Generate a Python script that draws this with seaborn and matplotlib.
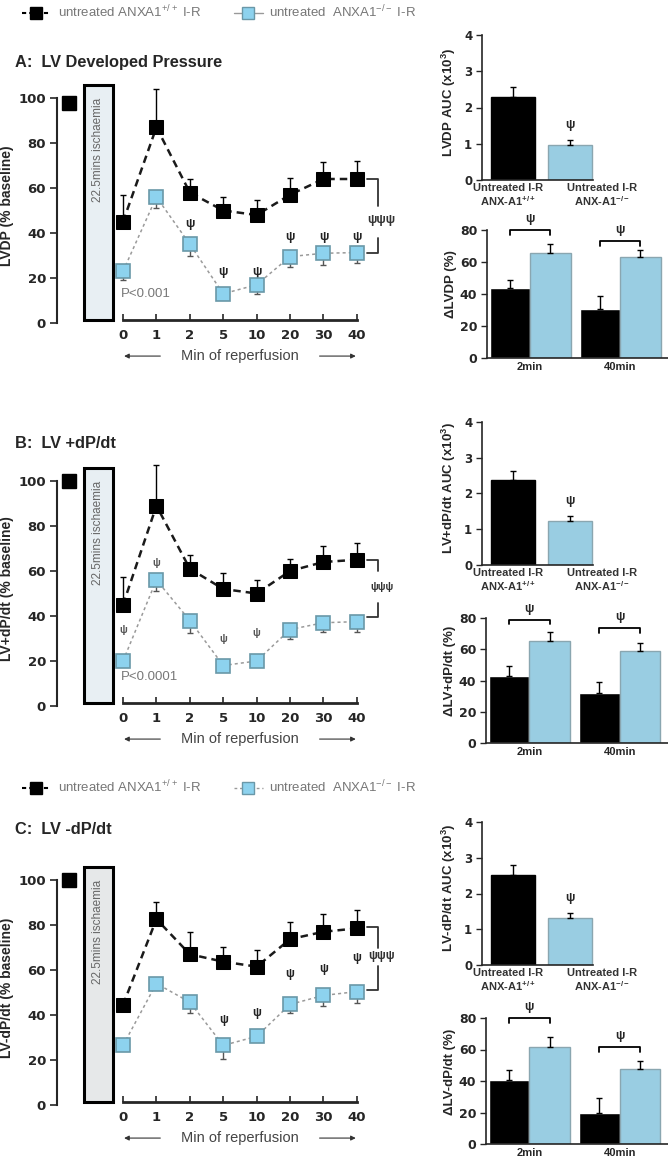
import matplotlib
matplotlib.use('Agg')
import matplotlib.pyplot as plt
from matplotlib.lines import Line2D
from matplotlib.patches import Rectangle
import numpy as np
import pandas as pd
import seaborn as sns

W, H = 668, 1160
BLACK = '#000000'
BLUE = '#8dd2ee'
BLUE_EDGE = '#6a98a8'
TICK_FONT = ['DejaVu Sans']

# reperfusion time points (min)
times = ['0', '1', '2', '5', '10', '20', '30', '40']

# A: LV developed pressure (% baseline)
lvdp_wt = [45, 87, 58, 50, 48, 57, 64, 64]
lvdp_wt_err = [12, 17, 6, 6, 6.5, 7.5, 7.5, 8]
lvdp_ko = [23, 56, 35, 13, 17, 29.5, 31, 31.3]
lvdp_ko_err = [4, 5, 5, 1, 4, 4.5, 5, 4.5]
lvdp_base = 98
lvdp_psi = {2: 44, 3: 22.8, 4: 22.8, 5: 38.4, 6: 38.4, 7: 38.4}

# B: LV +dP/dt (% baseline)
pos_wt = [45, 89, 61, 52, 50, 60, 64, 65]
pos_wt_err = [12.5, 18, 6, 7, 6, 5.5, 7, 7.5]
pos_ko = [20, 56, 38, 18, 20, 34, 37, 37.5]
pos_ko_err = [1, 5, 5.5, 1, 1, 4, 4.3, 4.5]
pos_base = 100
pos_psi = {0: 33.8, 1: 63.4, 3: 30, 4: 32.3}

# C: LV -dP/dt (% baseline)
neg_wt = [44.5, 82.6, 67, 63.7, 61.5, 73.7, 77, 78.5]
neg_wt_err = [0, 7.5, 10, 6.5, 7.5, 7.7, 8, 8.2]
neg_ko = [26.5, 54, 45.7, 26.5, 30.5, 44.7, 48.7, 50.4]
neg_ko_err = [1, 1, 5, 6, 1, 4, 4.7, 5]
neg_base = 100
neg_psi = {3: 37.6, 4: 41, 5: 58, 6: 60.5, 7: 65.3}

# AUC (x10^3)
auc_groups = ['Untreated I-R\nANX-A1$^{+/+}$', 'Untreated I-R\nANX-A1$^{-/-}$']
auc_lvdp = [2.3, 0.97]
auc_lvdp_err = [0.27, 0.12]
auc_pos = [2.37, 1.22]
auc_pos_err = [0.26, 0.14]
auc_neg = [2.53, 1.31]
auc_neg_err = [0.27, 0.15]

# change at 2 min / 40 min (%)
delta_times = ['2min', '40min']
d_lvdp_wt = [43.5, 30.5]
d_lvdp_wt_err = [5.5, 8.5]
d_lvdp_ko = [65.5, 63]
d_lvdp_ko_err = [5.5, 4.5]
d_pos_wt = [43, 32]
d_pos_wt_err = [6, 7]
d_pos_ko = [65, 59]
d_pos_ko_err = [6, 5]
d_neg_wt = [40.6, 19.7]
d_neg_wt_err = [6.4, 9.3]
d_neg_ko = [61.6, 47.6]
d_neg_ko_err = [6.4, 5.1]


def px_axes(fig, left, right, zero, scale, ylo, yhi):
    """
    Adds an axes placed by pixel positions.
    zero - pixel row of y=0, scale - pixels per y unit
    """
    top = zero - yhi * scale
    bottom = zero - ylo * scale
    ax = fig.add_axes([left / W, 1 - bottom / H, (right - left) / W,
                       (bottom - top) / H])
    ax.set_ylim(ylo, yhi)
    return ax


def bracket(ax, x0, xs, top, bottom, gap_lo, gap_hi, mid, psi_size):
    """
    Draws the right side significance bracket with the psi marks.
    """
    kw = dict(color='#333333', lw=1.3, clip_on=False)
    ax.plot([x0, xs, xs], [top, top, gap_hi], **kw)
    ax.plot([x0, xs, xs], [bottom, bottom, gap_lo], **kw)
    ax.text(xs + 0.12, mid, 'ψψψ', ha='center', va='center',
            fontsize=psi_size, fontweight='bold', color='#333333')


def time_course(ax, wt, wt_err, ko, ko_err, base, psi, psi_style,
                ylabel, ptext, box_color, brk):
    """
    Plots the reperfusion time course for one LV measure.
    """
    x = np.arange(len(times))
    sns.despine(ax=ax)
    ax.spines['bottom'].set_position(('data', 1.5))
    ax.set_xlim(-1.976, 8.59)
    ax.set_ylim(-6, 110)
    ax.errorbar(x, wt, yerr=[np.zeros(len(wt)), wt_err], fmt='none',
                ecolor='black', elinewidth=1, capsize=2.5, zorder=3)
    ax.errorbar(x, ko, yerr=[ko_err, np.zeros(len(ko))], fmt='none',
                ecolor='#555555', elinewidth=1, capsize=2.5, zorder=3)
    sns.lineplot(x=x, y=wt, ax=ax, color='#1a1a1a', lw=1.8,
                 linestyle=(0, (3, 2)), marker='s', markersize=10,
                 markerfacecolor='black', markeredgecolor='black', zorder=5)
    sns.lineplot(x=x, y=ko, ax=ax, color='#9a9a9a', lw=1.1,
                 linestyle=(0, (2, 2)), marker='s', markersize=10,
                 markerfacecolor=BLUE, markeredgecolor=BLUE_EDGE,
                 markeredgewidth=1.2, zorder=5)
    ax.plot([-1.62], [base], marker='s', markersize=10, color='black',
            clip_on=False)
    ax.add_patch(Rectangle((-1.17, 1.5), 0.86, 104.5, facecolor=box_color,
                           edgecolor='black', lw=2.2, clip_on=False))
    ax.text(-0.74, 77, '22.5mins ischaemia', rotation=90, ha='center',
            va='center', fontsize=8.5, color='#666666')
    size, color = psi_style
    for i, y in psi.items():
        ax.text(i, y, 'ψ', ha='center', va='center', fontsize=size,
                fontweight='bold', color=color)
    bracket(ax, 7.3, 7.62, *brk)
    ax.text(-0.05, 13, ptext, fontsize=9.5, color='#777777', va='center')

    ax.set_xticks(x)
    ax.set_xticklabels(times, fontweight='bold', fontsize=9.5,
                       family=TICK_FONT)
    ax.set_yticks([0, 20, 40, 60, 80, 100])
    ax.set_yticklabels(['0', '20', '40', '60', '80', '100'],
                       fontweight='bold', fontsize=9.5, family=TICK_FONT)
    ax.tick_params(axis='x', direction='in', length=4, width=1.2, pad=7)
    ax.tick_params(axis='y', direction='out', length=5, width=1.2, pad=3)
    ax.spines['left'].set_bounds(0, 100)
    ax.spines['left'].set_linewidth(1.5)
    ax.spines['bottom'].set_bounds(0, 7)
    ax.spines['bottom'].set_linewidth(2)
    ax.set_ylabel(ylabel, fontweight='bold', fontsize=10, labelpad=3)

    ax.text(3.5, -14.7, 'Min of reperfusion', ha='center', va='center',
            fontsize=10.5, color='#444444')
    arrow = dict(arrowstyle='-|>', color='#333333', lw=0.8, mutation_scale=7)
    ax.annotate('', xy=(-0.05, -14.7), xytext=(1.2, -14.7),
                arrowprops=arrow, annotation_clip=False)
    ax.annotate('', xy=(7.05, -14.7), xytext=(5.8, -14.7),
                arrowprops=arrow, annotation_clip=False)


def auc_panel(ax, vals, errs, ylabel):
    """
    Plots the area under the curve bars for the two genotypes.
    """
    sns.barplot(x=auc_groups, y=vals, hue=auc_groups, palette=[BLACK, BLUE],
                legend=False, width=0.77, ax=ax, linewidth=1)
    for patch, ec in zip(ax.patches, ['black', '#8aa6b0']):
        patch.set_edgecolor(ec)
    ax.errorbar([0, 1], vals, yerr=[[0, 0], errs], fmt='none',
                ecolor='black', elinewidth=1, capsize=2.5, zorder=4)
    ax.text(1, vals[1] + errs[1] + 0.42, 'ψ', ha='center', va='center',
            fontsize=9, fontweight='bold')
    ax.set_xlim(-0.544, 1.965)
    ax.set_ylim(0, 4.3)
    ax.set_xticks([-0.09, 1.56])
    ax.set_xticklabels(auc_groups, fontsize=8, fontweight='bold',
                       color='#333333', linespacing=1.1)
    ax.set_yticks([0, 1, 2, 3, 4])
    ax.set_yticklabels(['0', '1', '2', '3', '4'], fontweight='bold',
                       fontsize=8.5, family=TICK_FONT)
    ax.tick_params(axis='x', length=0, pad=2)
    ax.tick_params(axis='y', length=4, width=1, pad=3)
    sns.despine(ax=ax)
    ax.spines['left'].set_bounds(0, 4)
    ax.spines['bottom'].set_bounds(-0.544, 1.4)
    ax.set_ylabel(ylabel, fontweight='bold', fontsize=9.5, labelpad=4)
    ax.set_xlabel('')


def delta_panel(ax, wt, wt_err, ko, ko_err, levels, ylabel):
    """
    Plots grouped bars at 2 and 40 min of reperfusion with brackets.
    """
    df = pd.DataFrame({
        'time': delta_times * 2,
        'genotype': ['wt'] * len(wt) + ['ko'] * len(ko),
        'val': list(wt) + list(ko),
    })
    sns.barplot(data=df, x='time', y='val', hue='genotype',
                palette=[BLACK, BLUE], width=0.9, legend=False,
                errorbar=None, ax=ax, linewidth=1)
    for bar in ax.containers[1]:
        bar.set_edgecolor('#8aa6b0')
    for cont, vals, errs in zip(ax.containers, [wt, ko], [wt_err, ko_err]):
        xs = [b.get_x() + b.get_width() / 2 for b in cont]
        ax.errorbar(xs, vals, yerr=[[0] * len(vals), errs], fmt='none',
                    ecolor='black', elinewidth=1, capsize=2.5, zorder=4)
    for i, lev in enumerate(levels):
        x0 = ax.containers[0][i].get_x() + ax.containers[0][i].get_width() / 2
        x1 = ax.containers[1][i].get_x() + ax.containers[1][i].get_width() / 2
        ax.plot([x0, x0, x1, x1], [lev - 3, lev, lev, lev - 3],
                color='black', lw=1.3, clip_on=False)
        ax.text((x0 + x1) / 2, lev + 7, 'ψ', ha='center', va='center',
                fontsize=9, fontweight='bold')
    ax.set_xlim(-0.478, 1.533)
    ax.set_ylim(0, 92)
    ax.set_xticks([0, 1])
    ax.set_xticklabels(delta_times, fontsize=8, fontweight='bold')
    ax.set_yticks([0, 20, 40, 60, 80])
    ax.set_yticklabels(['0', '20', '40', '60', '80'], fontweight='bold',
                       fontsize=9, family=TICK_FONT)
    ax.tick_params(axis='x', length=0, pad=3)
    ax.tick_params(axis='y', length=4, width=1, pad=3)
    sns.despine(ax=ax)
    ax.spines['left'].set_bounds(0, 80)
    ax.set_ylabel(ylabel, fontweight='bold', fontsize=9.5, labelpad=2)
    ax.set_xlabel('')


def add_legend(fig, ypx, ko_style):
    """
    Adds the genotype legend at the given pixel row.
    """
    h1 = Line2D([], [], color='black', linestyle=(0, (2, 1.5)), lw=1.5,
                marker='s', markersize=9, mfc='black', mec='black')
    h2 = Line2D([], [], color='#999999', linestyle=ko_style, lw=1,
                marker='s', markersize=9, mfc=BLUE, mec=BLUE_EDGE)
    fig.legend([h1, h2], ['untreated ANXA1$^{+/+}$ I-R',
                          'untreated  ANXA1$^{-/-}$ I-R'],
               loc='center left', bbox_to_anchor=(10 / W, 1 - ypx / H),
               ncol=2, frameon=False, fontsize=9.5, handlelength=2.2,
               columnspacing=2.5, handletextpad=0.5, labelcolor='#777777')


def main():
    sns.set_style('ticks')
    plt.rcParams['font.family'] = ['Liberation Sans', 'DejaVu Sans']
    plt.rcParams['mathtext.default'] = 'regular'
    plt.rcParams['axes.linewidth'] = 1.2

    fig = plt.figure(figsize=(W / 100, H / 100), dpi=100)

    add_legend(fig, 12, '-')
    add_legend(fig, 787, (0, (2, 2)))
    for y, title in [(63, 'A:  LV Developed Pressure'),
                     (443, 'B:  LV +dP/dt'), (830, 'C:  LV -dP/dt')]:
        fig.text(15 / W, 1 - y / H, title, fontsize=11.8, fontweight='bold',
                 va='center')

    ax = px_axes(fig, 57, 410, 323, 2.25, -6, 110)
    time_course(ax, lvdp_wt, lvdp_wt_err, lvdp_ko, lvdp_ko_err, lvdp_base,
                lvdp_psi, (9, '#222222'), 'LVDP (% baseline)', 'P<0.001',
                '#e8eff3', (64, 31.3, 38, 52, 45.8, 9))
    ax = px_axes(fig, 57, 410, 706, 2.25, -6, 110)
    time_course(ax, pos_wt, pos_wt_err, pos_ko, pos_ko_err, pos_base,
                pos_psi, (7.5, '#555555'), 'LV+dP/dt (% baseline)',
                'P<0.0001', '#e8eff3', (64.9, 39.4, 46, 60, 53, 7.5))
    ax = px_axes(fig, 57, 410, 1105, 2.25, -6, 110)
    time_course(ax, neg_wt, neg_wt_err, neg_ko, neg_ko_err, neg_base,
                neg_psi, (8.5, '#222222'), 'LV-dP/dt (% baseline)', '',
                '#e6e8e9', (79.2, 51.2, 62, 70, 66, 8.5))

    ax = px_axes(fig, 482, 625, 180, 36.25, 0, 4.3)
    auc_panel(ax, auc_lvdp, auc_lvdp_err, 'LVDP AUC (x10$^3$)')
    ax = px_axes(fig, 482, 625, 565, 35.75, 0, 4.3)
    auc_panel(ax, auc_pos, auc_pos_err, 'LV+dP/dt AUC (x10$^3$)')
    ax = px_axes(fig, 482, 625, 965, 35.75, 0, 4.3)
    auc_panel(ax, auc_neg, auc_neg_err, 'LV-dP/dt AUC (x10$^3$)')

    ax = px_axes(fig, 487, 668, 358, 1.6, 0, 92)
    delta_panel(ax, d_lvdp_wt, d_lvdp_wt_err, d_lvdp_ko, d_lvdp_ko_err,
                [80, 73], 'ΔLVDP (%)')
    ax = px_axes(fig, 486, 668, 743, 1.5625, 0, 92)
    delta_panel(ax, d_pos_wt, d_pos_wt_err, d_pos_ko, d_pos_ko_err,
                [79, 73.5], 'ΔLV+dP/dt (%)')
    ax = px_axes(fig, 486, 668, 1144, 1.575, 0, 92)
    delta_panel(ax, d_neg_wt, d_neg_wt_err, d_neg_ko, d_neg_ko_err,
                [80, 61.6], 'ΔLV-dP/dt (%)')

    fig.savefig('out.png', dpi=100)


if __name__ == '__main__':
    main()
